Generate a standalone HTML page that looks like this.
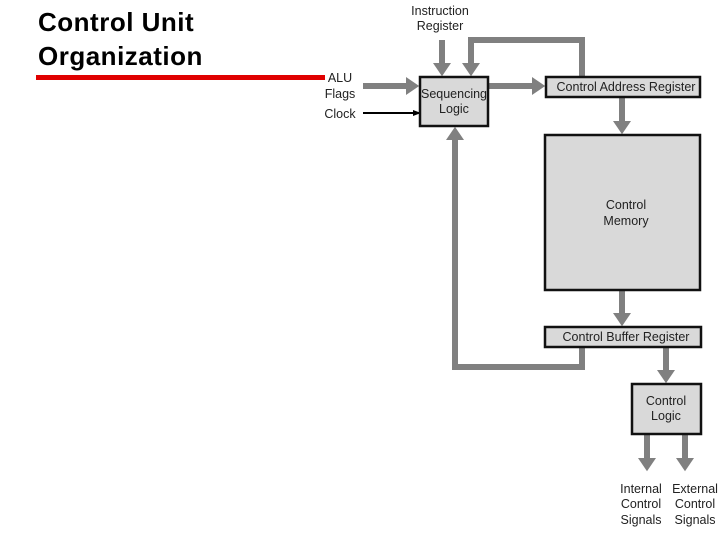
<!DOCTYPE html>
<html><head><style>
body{margin:0;width:720px;height:540px;background:#fff;overflow:hidden;position:relative;font-family:"Liberation Sans",Arial,sans-serif}
.t{position:absolute;left:38px;font-weight:bold;font-size:26px;color:#000;letter-spacing:0.5px}
</style></head><body>
<div class="t" style="top:7px">Control Unit</div>
<div class="t" style="top:41px">Organization</div>
<div style="position:absolute;left:36px;top:75px;width:289px;height:5px;background:#e00000"></div>
<svg width="720" height="540" style="position:absolute;left:0;top:0" font-family="Liberation Sans, Arial, sans-serif" font-size="12.5" fill="#222">
<defs>
<marker id="a" markerWidth="3" markerHeight="3" refX="0" refY="1.5" orient="auto" markerUnits="strokeWidth"><path d="M0,0 L2.2,1.5 L0,3 z" fill="#808080"/></marker>
<marker id="b" markerWidth="8" markerHeight="6" refX="7" refY="3" orient="auto" markerUnits="userSpaceOnUse"><path d="M0,0 L8,3 L0,6 z" fill="#000"/></marker>
</defs>
<g stroke="#808080" stroke-width="6" fill="none">
<path d="M442,40 V63" marker-end="url(#a)"/>
<path d="M582,77 V40 H471 V63" marker-end="url(#a)"/>
<path d="M363,86 H406" marker-end="url(#a)"/>
<path d="M488,86 H532" marker-end="url(#a)"/>
<path d="M622,97 V121" marker-end="url(#a)"/>
<path d="M622,290 V313" marker-end="url(#a)"/>
<path d="M582,347 V367 H455 V140" marker-end="url(#a)"/>
<path d="M666,347 V370" marker-end="url(#a)"/>
<path d="M647,434 V458" marker-end="url(#a)"/>
<path d="M685,434 V458" marker-end="url(#a)"/>
</g>
<path d="M363,113 H420" stroke="#000" stroke-width="2" marker-end="url(#b)"/>
<g fill="#d9d9d9" stroke="#111" stroke-width="2.5">
<rect x="420" y="77" width="68" height="49"/>
<rect x="546" y="77" width="154" height="20"/>
<rect x="545" y="135" width="155" height="155"/>
<rect x="545" y="327" width="156" height="20"/>
<rect x="632" y="384" width="69" height="50"/>
</g>
<g text-anchor="middle">
<text x="440" y="15">Instruction</text><text x="440" y="30">Register</text>
<text x="454" y="98">Sequencing</text><text x="454" y="113">Logic</text>
<text x="626" y="91">Control Address Register</text>
<text x="626" y="209">Control</text><text x="626" y="225">Memory</text>
<text x="626" y="341">Control Buffer Register</text>
<text x="666" y="405">Control</text><text x="666" y="420">Logic</text>
<text x="641" y="493">Internal</text><text x="641" y="508">Control</text><text x="641" y="524">Signals</text>
<text x="695" y="493">External</text><text x="695" y="508">Control</text><text x="695" y="524">Signals</text>
<text x="340" y="82">ALU</text><text x="340" y="98">Flags</text><text x="340" y="118">Clock</text>
</g>
</svg>
</body></html>
